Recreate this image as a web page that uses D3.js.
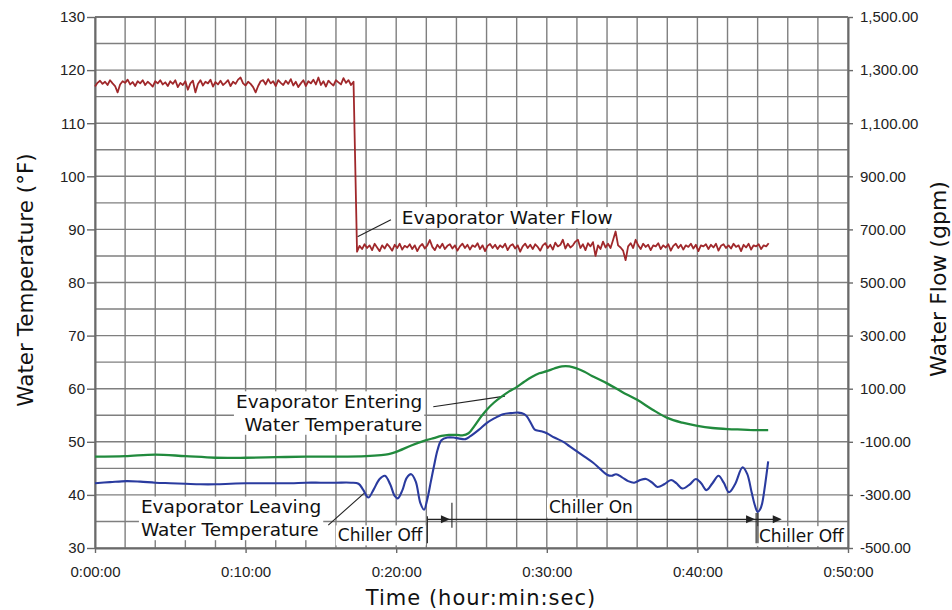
<!DOCTYPE html>
<html><head><meta charset="utf-8">
<script src="https://cdn.jsdelivr.net/npm/d3@7"></script>
<style>body{margin:0;background:#fff}svg{display:block}</style>
</head><body>
<svg id="chart" width="952" height="610"></svg>
<script>
// ---------------- DATA ----------------
const xTickMinutes = [0, 10, 20, 30, 40, 50];
const tempTicks = [30, 40, 50, 60, 70, 80, 90, 100, 110, 120, 130];
const flowTicks = [-500, -300, -100, 100, 300, 500, 700, 900, 1100, 1300, 1500];

// Evaporator water flow (gpm), sampled every 10 s (1/6 min)
const flowStep = 1 / 6;
const flowUpperStart = 0;
const flowUpper = [
  1238,1252,1260,1248,1256,1244,1262,1250,1240,1216,
  1246,1258,1252,1264,1246,1255,1240,1258,1250,1262,
  1244,1256,1248,1238,1258,1250,1262,1246,1254,1240,
  1258,1248,1262,1236,1252,1244,1258,1226,1250,1260,
  1216,1248,1262,1242,1256,1250,1264,1238,1255,1246,
  1260,1244,1252,1262,1240,1256,1248,1264,1272,1250,
  1242,1256,1248,1236,1216,1240,1258,1262,1246,1266,
  1250,1258,1240,1262,1252,1244,1260,1248,1266,1242,
  1256,1236,1250,1262,1240,1258,1250,1264,1246,1272,
  1244,1258,1238,1260,1250,1242,1262,1254,1246,1270,
  1252,1262,1244,1256
];
const flowLowerStart = 17.4;
const flowLower = [
  616,638,626,644,630,640,622,646,632,618,
  640,628,645,634,620,642,630,646,624,638,
  632,644,626,640,618,636,645,628,640,660,
  634,622,642,630,646,626,638,644,628,640,
  620,636,646,630,642,624,640,634,648,626,
  640,618,638,645,630,642,626,640,632,646,
  622,638,644,628,640,616,636,646,630,642,
  626,644,634,620,640,648,630,642,624,650,
  636,642,661,628,646,632,640,654,661,630,
  644,622,648,636,652,600,640,626,654,632,
  646,630,660,692,640,632,620,584,636,648,
  630,661,640,626,646,634,642,622,640,636,
  648,626,640,632,644,620,638,646,630,642,
  624,640,634,646,628,642,618,640,636,644,
  626,642,632,646,620,638,644,630,640,628,
  646,634,640,618,642,632,646,624,640,636,
  644,626,640,636,648
];

// Evaporator entering water temperature (°F)
const enteringMinutes = [0,2,4,6,8,10,12,14,16,18,19,19.5,20,21,22,22.5,23,23.5,24,24.4,24.8,25.2,25.6,26,26.5,27,27.5,28,28.5,29,29.5,30,30.5,31,31.5,32,32.5,33,34,35,36,37,38,39,40,41,42,43,44,44.7];
const enteringTemp = [47.2,47.3,47.6,47.3,47.0,47.0,47.1,47.2,47.2,47.3,47.5,47.7,48.1,49.3,50.3,50.7,51.1,51.3,51.3,51.2,51.6,53.0,54.6,56.0,57.4,58.5,59.5,60.3,61.3,62.2,62.9,63.3,63.8,64.2,64.2,63.8,63.2,62.4,61.0,59.4,57.9,56.1,54.5,53.6,53.0,52.6,52.4,52.3,52.2,52.2];

// Evaporator leaving water temperature (°F)
const leavingMinutes = [0,1,2.1,3,4,5,6,7,8,9,10,11,12,13,14,15,16,17,17.5,17.8,18.15,18.5,18.9,19.25,19.6,19.9,20.1,20.4,20.7,21,21.3,21.6,21.85,22.05,22.3,22.5,22.75,23,23.4,23.8,24.2,24.6,24.9,25.5,26,26.5,27.1,27.6,28.1,28.5,28.7,29,29.2,29.6,30,30.5,31.1,31.5,32,32.5,33.1,33.5,34,34.3,34.6,35,35.4,35.8,36.2,36.6,37,37.35,37.8,38.25,38.6,39,39.5,39.9,40.25,40.6,41,41.4,41.75,42.1,42.5,43,43.3,43.6,43.8,44,44.15,44.3,44.5,44.7];
const leavingTemp = [42.2,42.4,42.6,42.5,42.3,42.2,42.1,42.0,42.0,42.1,42.2,42.2,42.2,42.2,42.3,42.3,42.3,42.3,42.1,41.0,39.5,41.0,43.0,43.6,42.0,39.8,39.35,40.8,43.2,43.9,42.5,38.5,37.2,39.0,42.5,45.3,48.5,50.3,50.8,50.8,50.6,50.5,51.0,52.3,53.5,54.4,55.2,55.4,55.5,55.2,54.7,53.2,52.3,52.0,51.6,50.8,50.0,49.2,48.2,47.2,46.0,45.0,43.8,43.6,43.9,43.3,42.6,42.3,42.8,43.0,42.3,41.5,42.0,42.8,42.2,41.2,42.0,43.0,42.2,40.9,42.2,43.6,42.3,40.5,42.0,45.2,44.0,40.5,38.2,36.8,37.2,38.4,42.0,46.3];

// ---------------- CHART ----------------
const svg = d3.select('#chart');
const M = {l: 95, r: 848, t: 17, b: 548};
const x = d3.scaleLinear().domain([0, 50]).range([M.l, M.r]);
const yT = d3.scaleLinear().domain([30, 130]).range([M.b, M.t]);
const yF = d3.scaleLinear().domain([-500, 1500]).range([M.b, M.t]);

const gridColor = '#7f7f7f', axisColor = '#6a6a6a';
const tickFont = "'Liberation Sans', Arial, sans-serif";
const labFont = "'DejaVu Sans', Verdana, sans-serif";

// grid
const grid = svg.append('g');
grid.selectAll('line.h').data(d3.range(30, 131, 5)).join('line')
  .attr('x1', M.l).attr('x2', M.r).attr('y1', d => yT(d)).attr('y2', d => yT(d))
  .attr('stroke', gridColor).attr('stroke-width', 1.4);
grid.selectAll('line.v').data(d3.range(0, 51, 2)).join('line')
  .attr('y1', M.t).attr('y2', M.b).attr('x1', d => x(d)).attr('x2', d => x(d))
  .attr('stroke', gridColor).attr('stroke-width', 1.4);

// axes
const fmtLocale = d3.formatLocale({decimal: '.', thousands: ',', grouping: [3], currency: ['$', ''], minus: '-'});
const flowFmt = fmtLocale.format(',.2f');
function styleAxis(g) {
  g.select('.domain').attr('stroke', axisColor).attr('stroke-width', 2);
  g.selectAll('.tick line').attr('stroke', axisColor).attr('stroke-width', 1.4);
  g.selectAll('.tick text').attr('fill', '#222').style('font-family', tickFont).style('font-size', '15px');
}
svg.append('g').attr('transform', `translate(${M.l},0)`)
  .call(d3.axisLeft(yT).tickValues(tempTicks).tickSize(8).tickPadding(2).tickSizeOuter(0))
  .call(styleAxis);
svg.append('g').attr('transform', `translate(${M.r},0)`)
  .call(d3.axisRight(yF).tickValues(flowTicks).tickSize(5).tickPadding(7).tickSizeOuter(0).tickFormat(flowFmt))
  .call(styleAxis);
svg.append('g').attr('transform', `translate(0,${M.b})`)
  .call(d3.axisBottom(x).tickValues(xTickMinutes).tickSize(5).tickPadding(13).tickSizeOuter(0)
    .tickFormat(m => `0:${String(m).padStart(2, '0')}:00`))
  .call(styleAxis);
svg.append('line').attr('x1', M.l).attr('x2', M.r).attr('y1', M.t).attr('y2', M.t)
  .attr('stroke', axisColor).attr('stroke-width', 1.6);

// axis titles
svg.append('text').attr('transform', 'translate(33,280) rotate(-90)').attr('text-anchor', 'middle')
  .style('font-family', labFont).style('font-size', '21.5px').attr('fill', '#111').text('Water Temperature (°F)');
svg.append('text').attr('transform', 'translate(946,279) rotate(-90)').attr('text-anchor', 'middle')
  .style('font-family', labFont).style('font-size', '22px').attr('fill', '#111').text('Water Flow (gpm)');
svg.append('text').attr('x', 481).attr('y', 605).attr('text-anchor', 'middle')
  .style('font-family', labFont).style('font-size', '21px').style('letter-spacing', '1px').attr('fill', '#111')
  .text('Time (hour:min:sec)');

// annotation labels with white backgrounds
const ann = svg.append('g');
function label(lines, t, baseT, lineGap, anchor, size) {
  const g = ann.append('g');
  lines.forEach((s, i) => {
    g.append('text').attr('x', x(t)).attr('y', yT(baseT) + i * lineGap).attr('text-anchor', anchor)
      .style('font-family', labFont).style('font-size', size + 'px').attr('fill', '#111').text(s);
  });
  const bb = g.node().getBBox();
  g.insert('rect', 'text').attr('x', bb.x - 2).attr('y', bb.y).attr('width', bb.width + 4).attr('height', bb.height)
    .attr('fill', '#fff');
}
label(['Evaporator Water Flow'], 20.37, 91.0, 0, 'start', 18.5);
label(['Evaporator Entering', 'Water Temperature'], 21.73, 56.3, 22.4, 'end', 18.5);
label(['Evaporator Leaving', 'Water Temperature'], 3.05, 36.5, 22.7, 'start', 18.5);
label(['Chiller Off'], 16.12, 31.24, 0, 'start', 17);
label(['Chiller On'], 32.93, 36.5, 0, 'middle', 17);
label(['Chiller Off'], 44.09, 31.1, 0, 'start', 17);

// leader lines
const leaders = [
  [[17.43, 88.6], [19.65, 91.8]],
  [[22.46, 56.6], [27.22, 58.6]],
  [[15.49, 34.3], [17.86, 40.3]]
];
ann.selectAll('line.lead').data(leaders).join('line')
  .attr('x1', d => x(d[0][0])).attr('y1', d => yT(d[0][1]))
  .attr('x2', d => x(d[1][0])).attr('y2', d => yT(d[1][1]))
  .attr('stroke', '#222').attr('stroke-width', 1.1);

// chiller state arrows
const arrowY = 35.4;
ann.append('line').attr('x1', x(22.07)).attr('x2', x(45.4)).attr('y1', yT(arrowY)).attr('y2', yT(arrowY))
  .attr('stroke', '#222').attr('stroke-width', 1.3);
const markers = [[22.07, 36.0, 30.9], [23.7, 38.5, 33.8], [43.9, 36.6, 30.9], [44.02, 36.6, 30.9]];
ann.selectAll('line.mk').data(markers).join('line')
  .attr('x1', d => x(d[0])).attr('x2', d => x(d[0])).attr('y1', d => yT(d[1])).attr('y2', d => yT(d[2]))
  .attr('stroke', '#222').attr('stroke-width', 1.1);
const heads = [23.57, 43.83, 45.6];
ann.selectAll('path.head').data(heads).join('path')
  .attr('d', d => { const tx = x(d), ty = yT(arrowY); return `M${tx},${ty}L${tx - 9},${ty - 4}L${tx - 9},${ty + 4}Z`; })
  .attr('fill', '#222');

// series
const flowPts = flowUpper.map((v, i) => [flowUpperStart + i * flowStep, v])
  .concat(flowLower.map((v, i) => [flowLowerStart + i * flowStep, v]));
svg.append('path').datum(flowPts)
  .attr('d', d3.line().x(d => x(d[0])).y(d => yF(d[1])))
  .attr('fill', 'none').attr('stroke', '#a0282b').attr('stroke-width', 1.8).attr('stroke-linejoin', 'round');

svg.append('path').datum(enteringMinutes.map((m, i) => [m, enteringTemp[i]]))
  .attr('d', d3.line().curve(d3.curveCatmullRom.alpha(0.5)).x(d => x(d[0])).y(d => yT(d[1])))
  .attr('fill', 'none').attr('stroke', '#218a3d').attr('stroke-width', 2.3);

svg.append('path').datum(leavingMinutes.map((m, i) => [m, leavingTemp[i]]))
  .attr('d', d3.line().curve(d3.curveCatmullRom.alpha(0.5)).x(d => x(d[0])).y(d => yT(d[1])))
  .attr('fill', 'none').attr('stroke', '#2a3b9f').attr('stroke-width', 2.1);
</script>
</body></html>
